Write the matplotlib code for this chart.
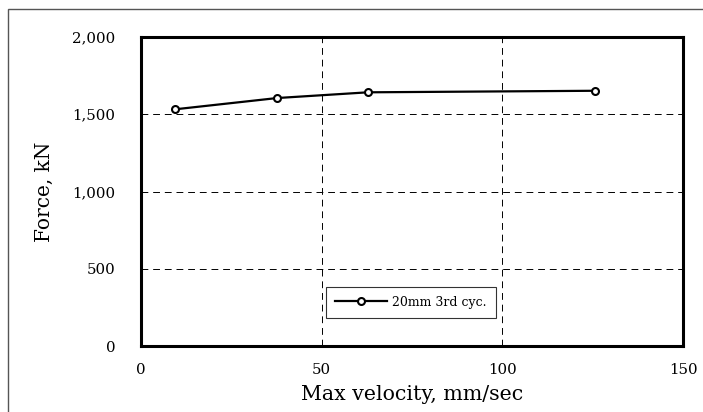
import matplotlib
matplotlib.use("Agg")
import matplotlib.pyplot as plt
from matplotlib.patches import Rectangle

velocity = [9.42, 37.7, 62.8, 125.7]
force = [1532, 1605, 1642, 1652]
series_label = "20mm 3rd cyc."
xticks = [0, 50, 100, 150]
yticks = [0, 500, 1000, 1500, 2000]

plt.rcParams['font.family'] = ['DejaVu Serif']

W, H = 703, 412
fig = plt.figure(figsize=(W/100, H/100), dpi=100)
fig.patches.append(Rectangle((8/W, -0.1), 1.2, 1 - 9/H + 0.1, transform=fig.transFigure,
                             fill=False, edgecolor='#555555', linewidth=1.0))
ax = fig.add_axes([141/W, 1 - 346/H, (683-141)/W, (346-37)/H])

ax.plot(velocity, force, color='black', linewidth=1.6, marker='o', markersize=5,
        markerfacecolor='white', markeredgecolor='black', markeredgewidth=1.5,
        label=series_label)
ax.set_xlim(0, 150)
ax.set_ylim(0, 2000)
ax.set_xticks(xticks)
ax.set_yticks(yticks)
ax.set_yticklabels([f"{v:,}" for v in yticks])
ax.tick_params(length=0, labelsize=10.8)
ax.tick_params(axis='x', pad=12)
ax.tick_params(axis='y', pad=18.5)
ax.grid(True, color='black', linestyle=(0, (7, 5)), linewidth=0.7)
for s in ax.spines.values():
    s.set_linewidth(2.2)
ax.set_xlabel("Max velocity, mm/sec", fontsize=14.8, labelpad=6)
ax.set_ylabel("Force, kN", fontsize=14.5, labelpad=13)

leg = ax.legend(loc='upper left', bbox_to_anchor=((326-141)/(683-141), (346-287)/(346-37)),
                fontsize=9, frameon=True, fancybox=False, handlelength=4.2,
                borderpad=0.7, borderaxespad=0, handletextpad=0.4)
leg.get_frame().set_edgecolor('black')
leg.get_frame().set_linewidth(0.8)

fig.savefig("out.png", dpi=100)
